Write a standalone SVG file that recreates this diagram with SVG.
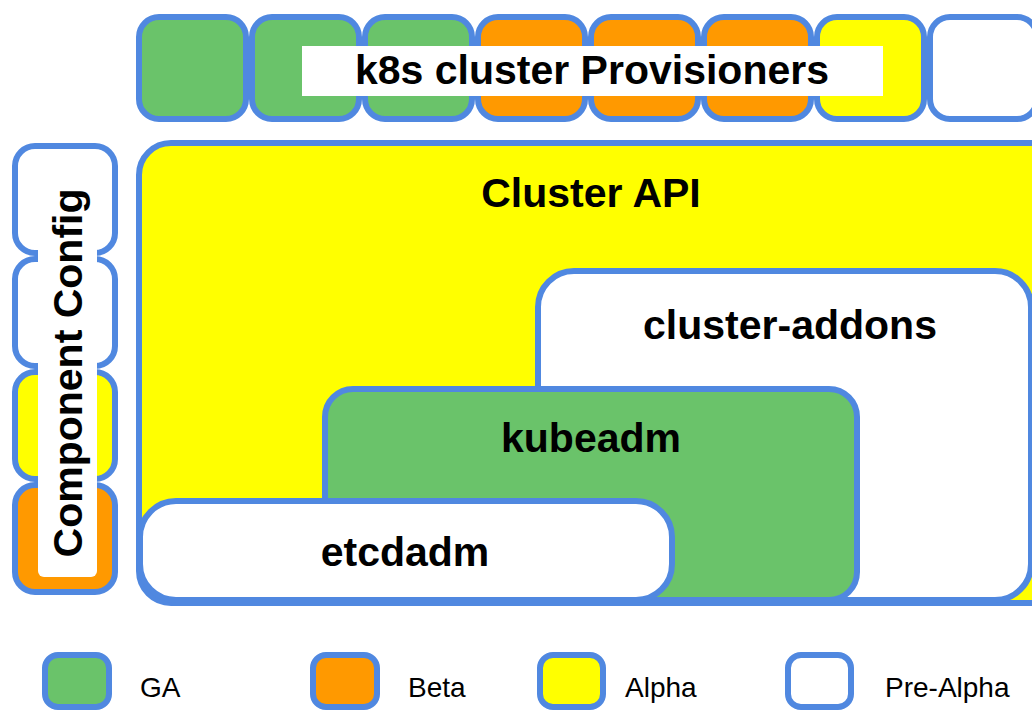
<svg xmlns="http://www.w3.org/2000/svg" width="1032" height="710" viewBox="0 0 1032 710">
<style>
.b{stroke:#5088E0;stroke-width:6}
.g{fill:#6AC36A}.o{fill:#FF9900}.y{fill:#FFFF00}.w{fill:#FFFFFF}
.t{font-family:"Liberation Sans",Arial,sans-serif;font-weight:bold;font-size:41px;fill:#000;text-anchor:middle}
.l{font-family:"Liberation Sans",Arial,sans-serif;font-size:28px;fill:#000}
</style>
<rect width="1032" height="710" fill="#fff"/>
<g id="provisioners">
<rect class="b g" x="139" y="17" width="107" height="102" rx="20"/>
<rect class="b g" x="252" y="17" width="107" height="102" rx="20"/>
<rect class="b g" x="365" y="17" width="107" height="102" rx="20"/>
<rect class="b o" x="478" y="17" width="107" height="102" rx="20"/>
<rect class="b o" x="591" y="17" width="107" height="102" rx="20"/>
<rect class="b o" x="704" y="17" width="107" height="102" rx="20"/>
<rect class="b y" x="817" y="17" width="107" height="102" rx="20"/>
<rect class="b w" x="930" y="17" width="107" height="102" rx="20"/>
<rect x="302" y="46" width="581" height="50" fill="#fff"/>
<text class="t" x="592" y="84">k8s cluster Provisioners</text>
</g>
<g id="component-config">
<rect class="b w" x="15" y="146" width="100" height="107" rx="20"/>
<rect class="b w" x="15" y="259" width="100" height="107" rx="20"/>
<rect class="b y" x="15" y="372" width="100" height="107" rx="20"/>
<rect class="b o" x="15" y="485" width="100" height="107" rx="20"/>
<rect x="38" y="200" width="59" height="377" rx="6" fill="#fff"/>
<text class="t" transform="translate(82,373) rotate(-90)">Component Config</text>
</g>
<g id="cluster-api">
<rect class="b y" x="139" y="143" width="960" height="460" rx="32"/>
<text class="t" x="591" y="207">Cluster API</text>
</g>
<g id="cluster-addons">
<rect class="b w" x="538" y="271" width="493" height="329" rx="36"/>
<text class="t" x="790" y="339">cluster-addons</text>
</g>
<g id="kubeadm">
<rect class="b g" x="325" y="389" width="532" height="211" rx="28"/>
<text class="t" x="591" y="452">kubeadm</text>
</g>
<g id="etcdadm">
<rect class="b w" x="140" y="501" width="532" height="99" rx="36"/>
<text class="t" x="405" y="566">etcdadm</text>
</g>
<g id="connectors"></g>
<g id="legend">
<rect class="b g" x="45" y="655" width="64" height="52" rx="13"/>
<text class="l" x="140" y="697">GA</text>
<rect class="b o" x="313" y="655" width="64" height="52" rx="13"/>
<text class="l" x="408" y="697">Beta</text>
<rect class="b y" x="540" y="655" width="63" height="52" rx="13"/>
<text class="l" x="625" y="697">Alpha</text>
<rect class="b w" x="788" y="655" width="63" height="52" rx="13"/>
<text class="l" x="885" y="697">Pre-Alpha</text>
</g>
</svg>
